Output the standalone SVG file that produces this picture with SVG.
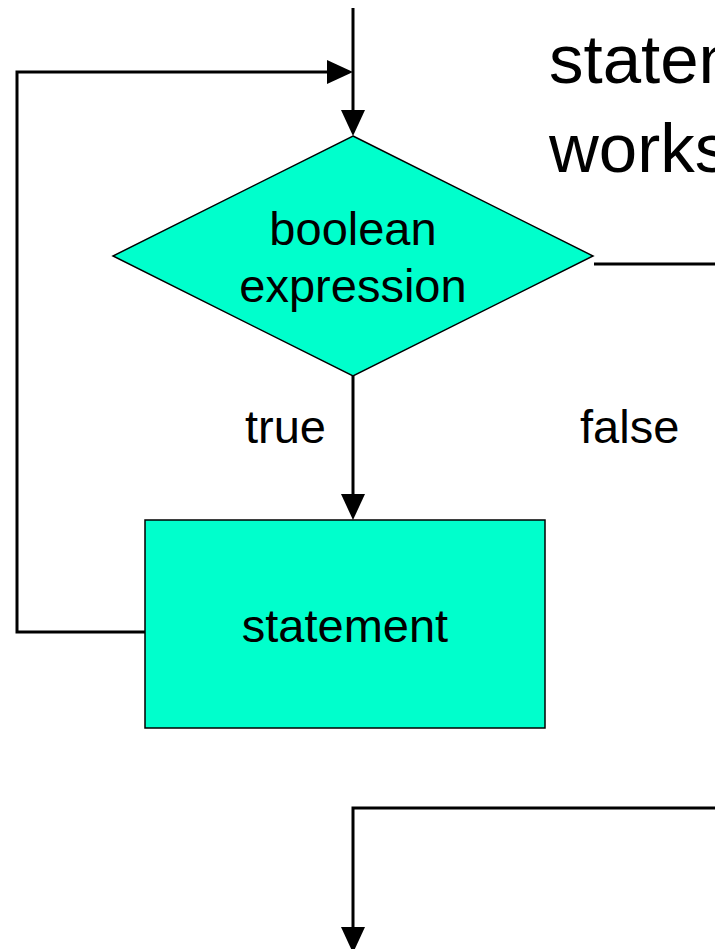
<svg xmlns="http://www.w3.org/2000/svg" width="715" height="949" viewBox="0 0 715 949">
<style>
.conn{fill:none;stroke:#000;stroke-width:3;stroke-linejoin:miter}
.shape{fill:#00FFCC;stroke:#000;stroke-width:1.5}
.lbl{font-family:"Liberation Sans",Arial,sans-serif;font-size:47px;fill:#000}
.title{font-family:"Liberation Sans",Arial,sans-serif;font-size:69px;fill:#000}
</style>
<defs>
<marker id="arr" viewBox="0 0 26 24" refX="16" refY="12" markerWidth="26" markerHeight="24" markerUnits="userSpaceOnUse" orient="auto">
<path d="M0,0 L26,12 L0,24 Z" fill="#000"/>
</marker>
</defs>
<g id="title">
<text class="title" x="549" y="83">statement</text>
<text class="title" x="549" y="172">works</text>
</g>
<g id="connectors">
<path class="conn" d="M353,8 L353,126" marker-end="url(#arr)"/>
<path class="conn" d="M145,632 L17,632 L17,72 L343,72" marker-end="url(#arr)"/>
<path class="conn" d="M353,376 L353,510" marker-end="url(#arr)"/>
<path class="conn" d="M594,264 L715,264"/>
<path class="conn" d="M715,808 L353,808 L353,943" marker-end="url(#arr)"/>
</g>
<g id="decision">
<polygon class="shape" points="353,136 593,256 353,376 113,256"/>
<text class="lbl" x="353" y="245" text-anchor="middle">boolean</text>
<text class="lbl" x="353" y="302" text-anchor="middle">expression</text>
</g>
<g id="statement">
<rect class="shape" x="145" y="520" width="400" height="208"/>
<text class="lbl" x="345" y="642" text-anchor="middle">statement</text>
</g>
<g id="labels">
<text class="lbl" x="245" y="443">true</text>
<text class="lbl" x="580" y="443">false</text>
</g>
</svg>
